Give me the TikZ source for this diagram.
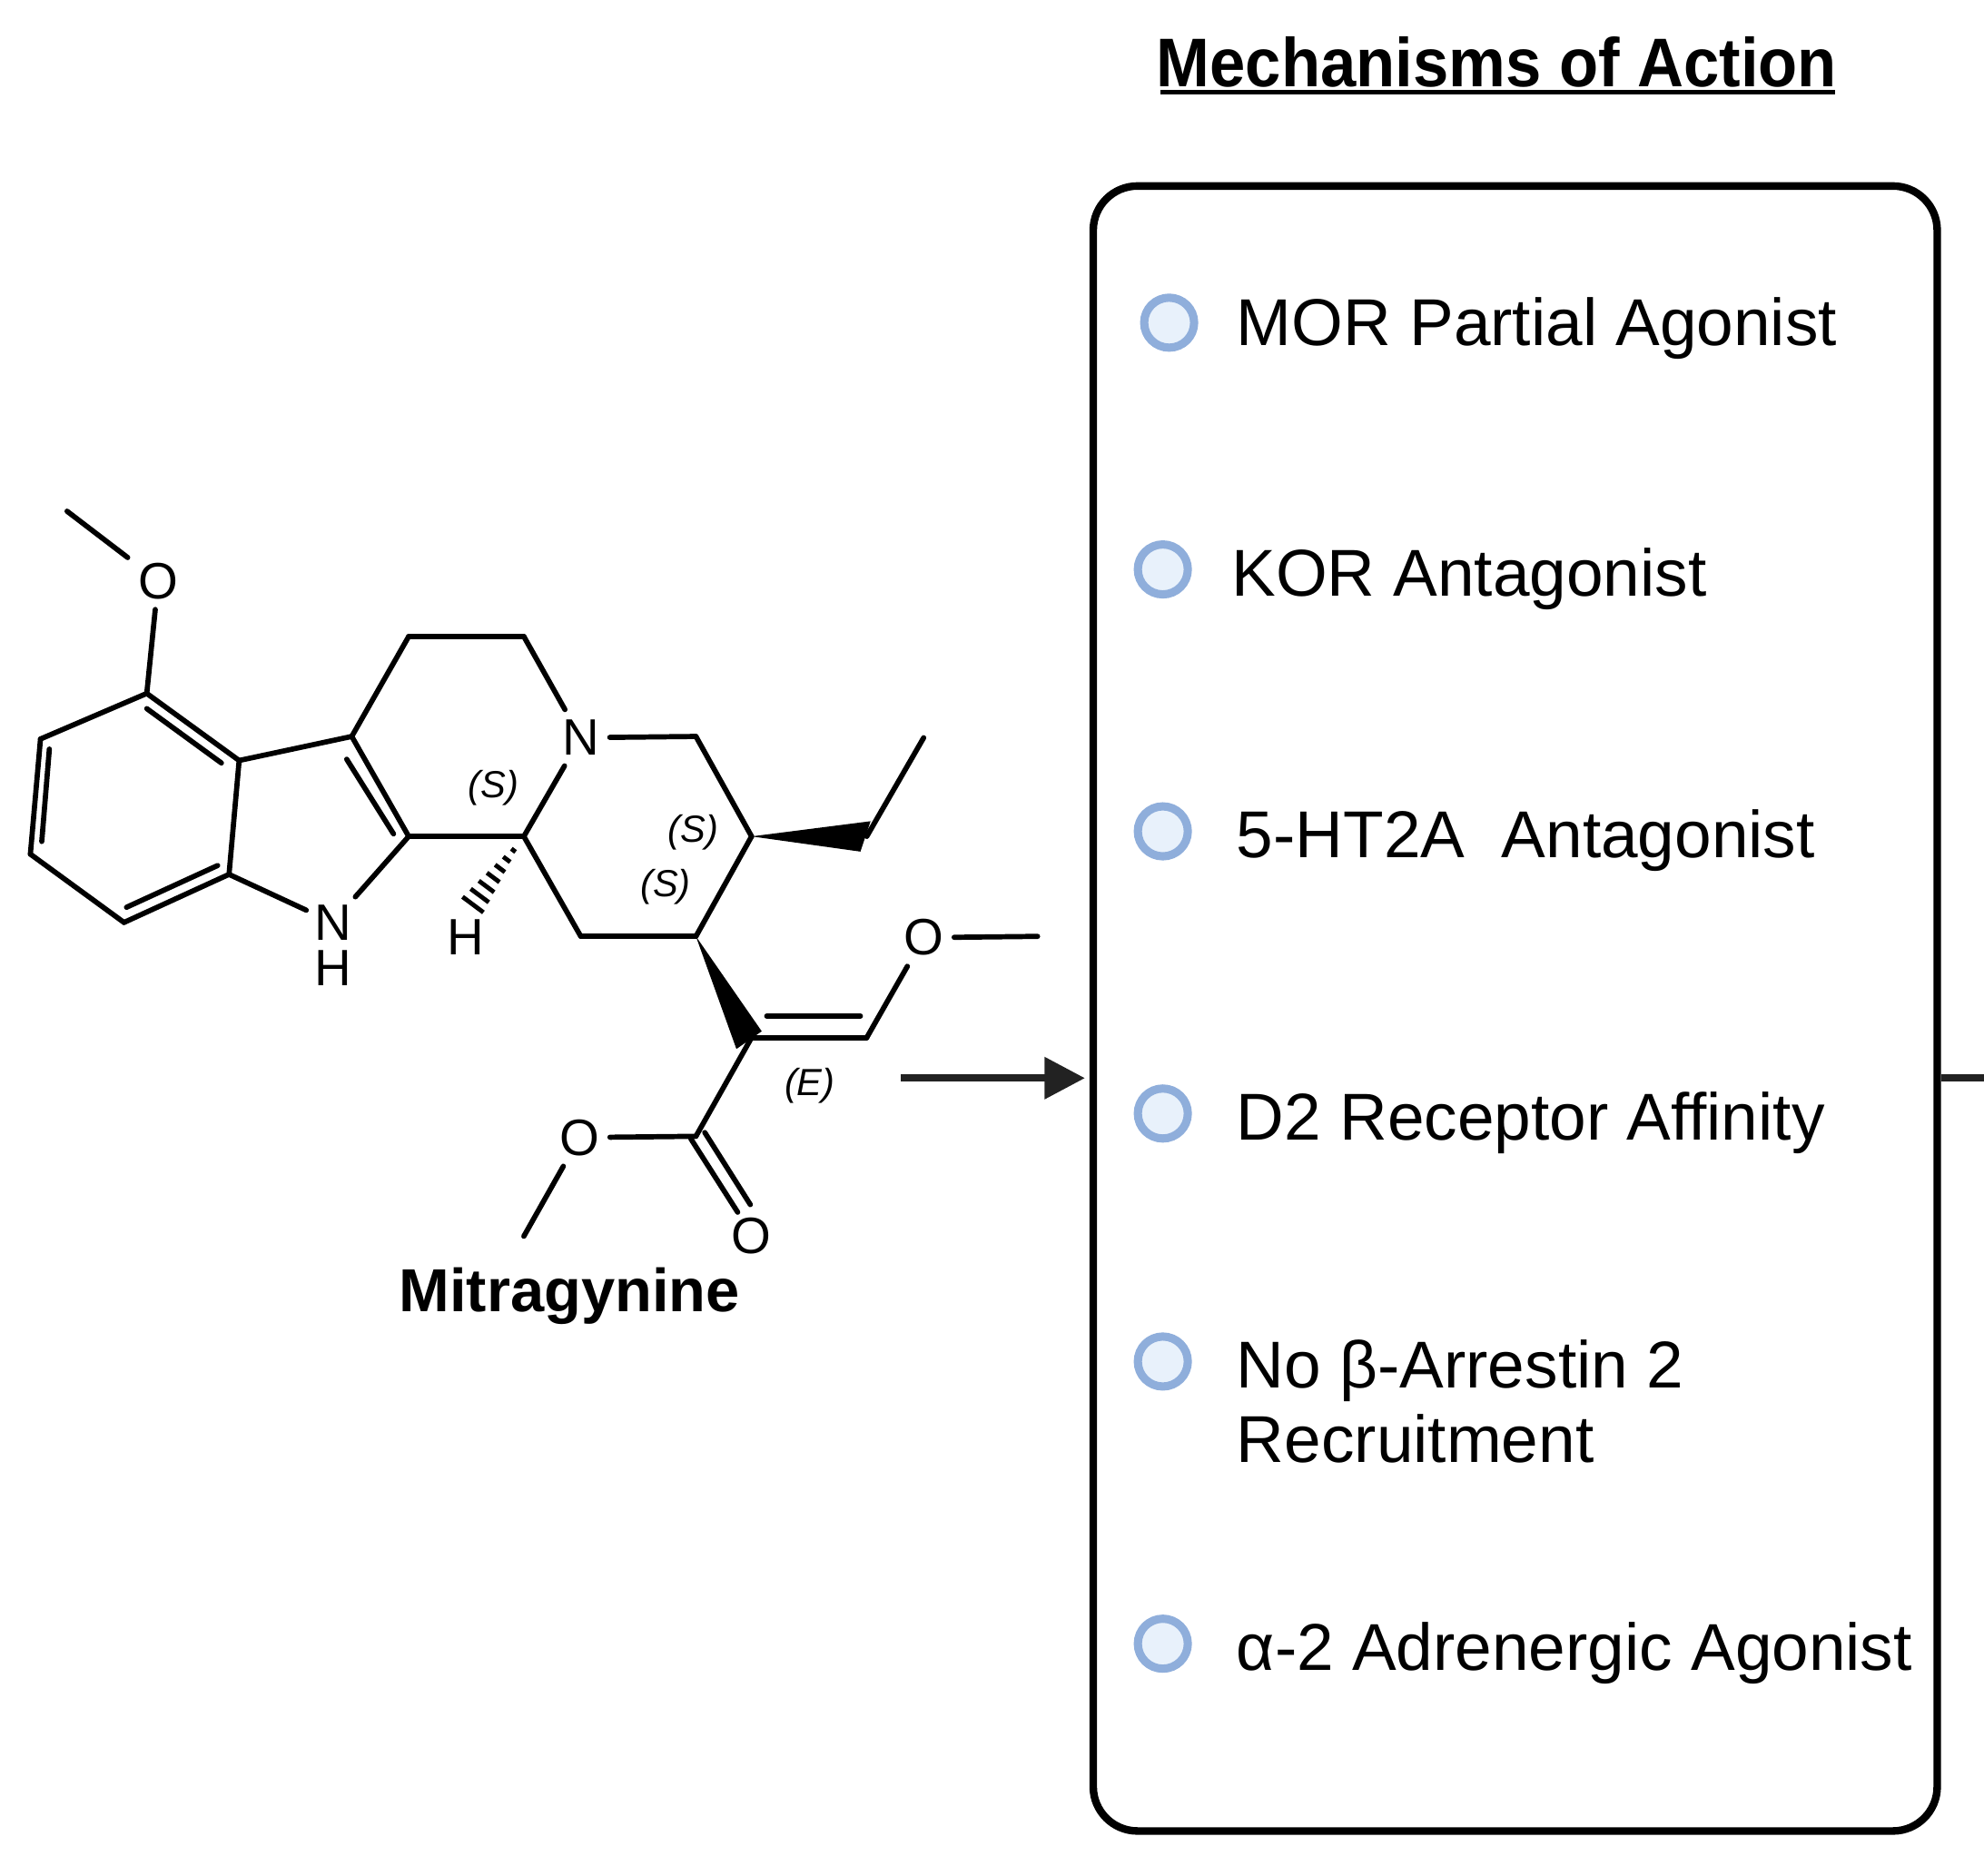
\documentclass[tikz,border=0pt]{standalone}
\usepackage{fontspec}
\setmainfont{Liberation Sans}
\newfontfamily\titlefont[FakeStretch=0.93,BoldFont={Liberation Sans Bold}]{Liberation Sans}
\usetikzlibrary{arrows.meta,calc}
\definecolor{dotline}{HTML}{8FAEDB}
\definecolor{dotfill}{HTML}{E8F1FB}
\definecolor{arrowcol}{HTML}{222222}
\tikzset{
  bond/.style={line width=0.82mm,line cap=round,line join=round},
  atom/.style={inner sep=1.6mm,font=\fontsize{23}{23}\selectfont},
  chiral/.style={inner sep=0pt,font=\fontsize{17}{17}\selectfont\itshape},
  dot/.style={circle,draw=dotline,fill=dotfill,line width=1.3mm,minimum size=7.9mm,inner sep=0pt},
  item/.style={anchor=base west,inner sep=0pt,font=\fontsize{29.8}{29.8}\selectfont},
  flow/.style={line width=1.2mm,draw=arrowcol}
}
\begin{document}
\begin{tikzpicture}[x=0.2mm,y=-0.2mm]
  \useasboundingbox (0,0) rectangle (1568,1482);
  % Carbon positions
  \foreach \n/\p in {me1/{53,404},a1/{116,548},a2/{32,584},a3/{24,675},a4/{98,729},a5/{181,691},a6/{189,601},
    b1/{278,582},b2/{323,661},b3/{323,503},b4/{414,503},b5/{414,661},b6/{550,582},b7/{594,661},b8/{550,740},b9/{459,740},
    e1/{685,661},e2/{730,583},v1/{594,820},v2/{685,820},me2/{820,740},c1/{550,898},me3/{414,977}}
    \coordinate (\n) at (\p);
  % Inner lines of double bonds
  \foreach \n/\p in {i1/{116,560},i2/{175,603},i3/{39,592},i4/{33,665},i5/{100,717},i6/{172,684},i7/{274,600},i8/{311,659},
    i9/{606,803},i10/{680,803},d1/{546,900},d2/{557,895},d3/{583,958},d4/{593,952}}
    \coordinate (\n) at (\p);
  % Atom labels
  \node[atom] (o1) at (125,459) {O};
  \node[atom] (n1) at (459,583) {N};
  \node[atom,inner sep=1.2mm] (nh) at (263,729) {N};
  \node[atom,inner sep=0pt] (nh2) at (263,765) {H};
  \node[atom,inner sep=0pt] (h1) at (368,741) {H};
  \node[atom] (o2) at (730,741) {O};
  \node[atom] (o3) at (458,899) {O};
  \node[atom,inner sep=0pt] (o4) at (594,977) {O};
  % Draw single bonds
  \foreach \a/\b in {me1/o1,o1/a1,a2/a3,a4/a5,a1/a2,a3/a4,a5/a6,a5/nh,a6/b1,b2/nh,b1/b3,b3/b4,b4/n1,n1/b5,n1/b6,b2/b5,b6/b7,b7/b8,b8/b9,b9/b5,e1/e2,v2/o2,o2/me2,v1/c1,c1/o3,o3/me3}
    \draw[bond] (\a) -- (\b);
  % Draw double bonds
  \foreach \a/\b in {a1/a6,b1/b2,v1/v2,i1/i2,i3/i4,i5/i6,i7/i8,i9/i10,d1/d3,d2/d4}
    \draw[bond] (\a) -- (\b);
  % Draw wedge bonds
  \fill (b7) -- (688,649) -- (680,673) -- cycle;
  \fill (b8) -- (602,815) -- (582,829) -- cycle;
  % Draw hashed bond
  \coordinate (hashend) at (373,716);
  \foreach \t in {0.2,0.33,...,1.0}
    \draw[line width=0.7mm] ($(b5)!\t!(hashend)!\t*2.1mm!90:(hashend)$) -- ($(b5)!\t!(hashend)!\t*2.1mm!-90:(hashend)$);
  % Stereo labels
  \node[chiral] (s1) at (390,623) {(S)};
  \node[chiral] (s2) at (548,658) {(S)};
  \node[chiral] (s3) at (526,701) {(S)};
  \node[chiral] (e) at (640,858) {(E)};
  \node[inner sep=0pt,font=\fontsize{27.3}{27.3}\selectfont\bfseries] (name) at (450,1024) {Mitragynine};
  % Title and box
  \node[inner sep=0pt,font=\fontsize{31}{31}\titlefont\bfseries] (title) at (1183,49) {Mechanisms of Action};
  \coordinate (ul1) at (917,73);
  \coordinate (ul2) at (1450,73);
  \draw[line width=0.7mm] (ul1) -- (ul2);
  \node[draw,line width=1.2mm,rounded corners=7mm,minimum width=133.4mm,minimum height=260mm,inner sep=0pt] (box) at (1197.5,797) {};
  % Draw the list
  \foreach \n/\x/\y/\tx/\bl/\val in {1/924/255/977/273/MOR Partial Agonist,2/919/450/973/471/KOR Antagonist,
    3/919/657/977/678/5-HT2A\ \ Antagonist,4/919/880/977/901/D2 Receptor Affinity,
    5/919/1076/977/1097/No β-Arrestin 2,6/919/1299/977/1320/α-2 Adrenergic Agonist}
  {
    \node[dot] (dot\n) at (\x,\y) {};
    \node[item] (item\n) at (\tx,\bl) {\val};
  }
  \node[item] (item5b) at (977,1156) {Recruitment};
  % Draw arrows
  \coordinate (arrowstart) at (712,852);
  \coordinate (stubend) at (1568,852);
  \draw[flow,shorten >=0.7mm,-{Triangle[length=6.4mm,width=6.4mm]}] (arrowstart) -- (box.west |- arrowstart);
  \draw[flow] (box.east |- stubend) -- (stubend);
\end{tikzpicture}
\end{document}
